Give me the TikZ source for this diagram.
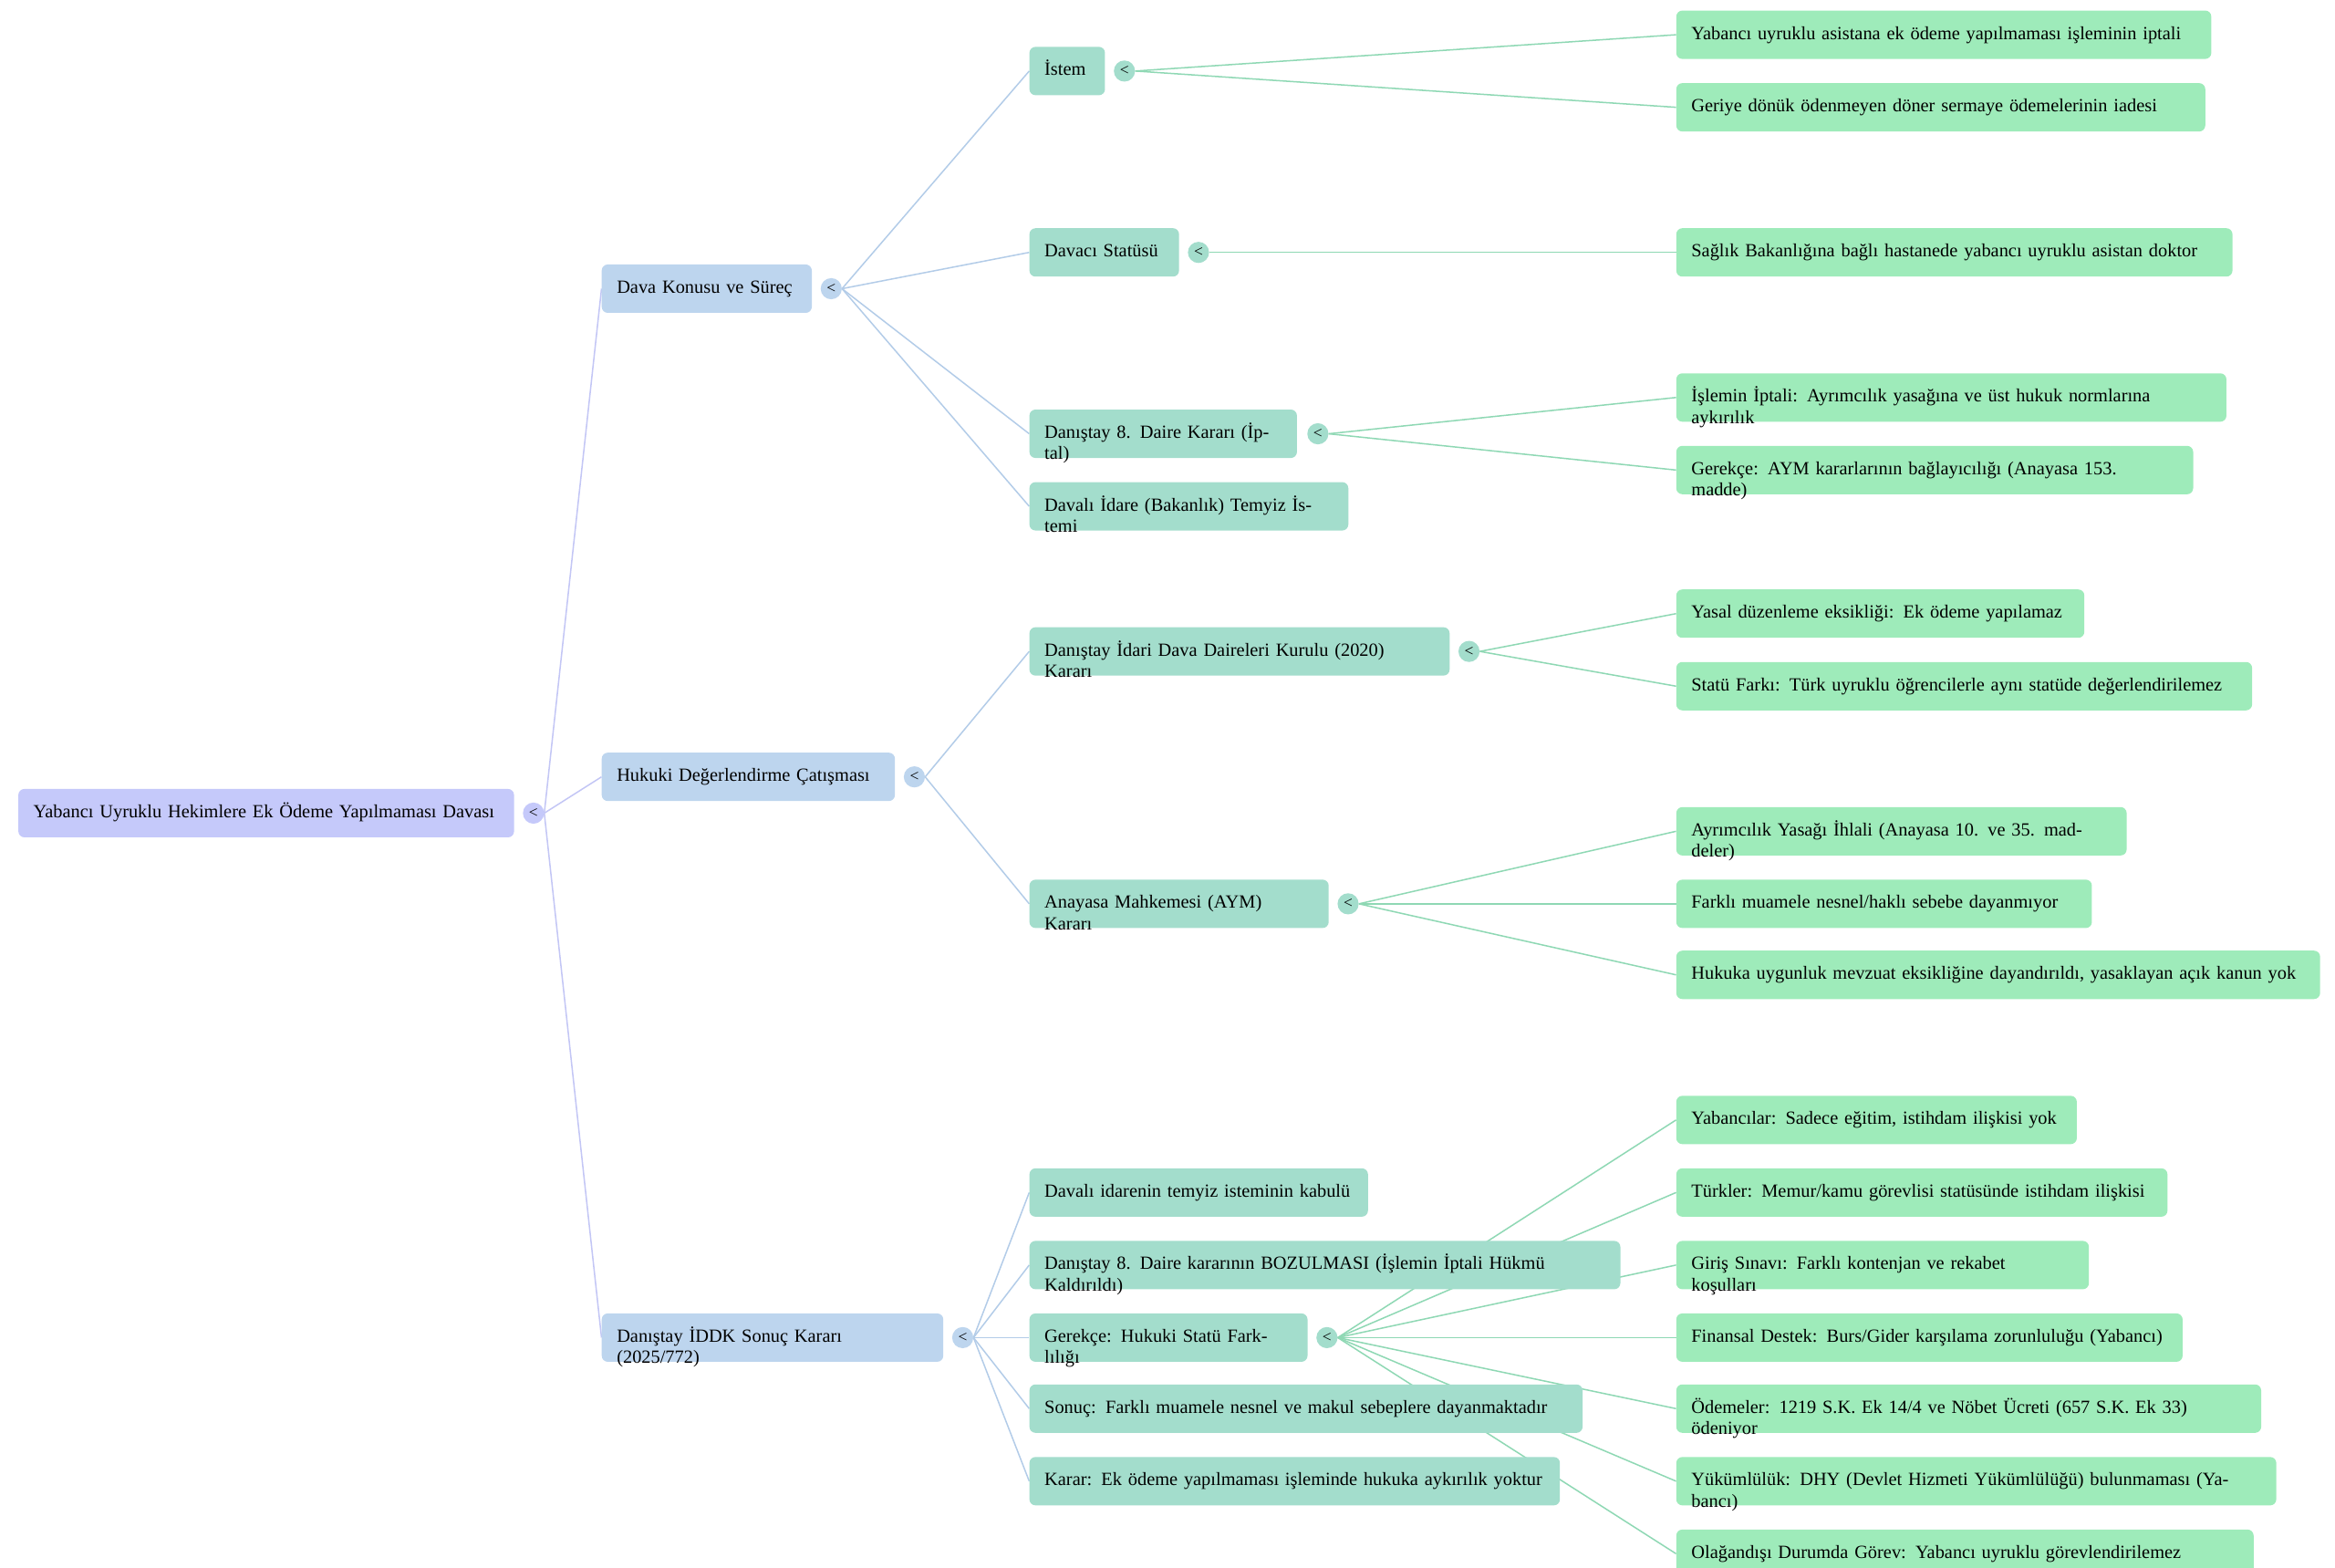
\documentclass[tikz,border=0pt]{standalone}
\usepackage{fontspec}
\setmainfont{Liberation Serif}
\usetikzlibrary{calc,backgrounds}
\begin{document}
\definecolor{c0}{HTML}{C5C9FA}
\definecolor{c1}{HTML}{BDD5EE}
\definecolor{c2}{HTML}{A3DDCC}
\definecolor{c3}{HTML}{9EEBBA}
\definecolor{e0}{HTML}{C3C6F5}
\definecolor{e1}{HTML}{B3CCE8}
\definecolor{e2}{HTML}{8FD8B4}
\begin{tikzpicture}[x=0.05cm,y=-0.05cm,
  box/.style={rounded corners=0.2cm,minimum height=1.6cm,inner xsep=0.5cm,inner ysep=0pt,anchor=west,align=left,font=\fontsize{17.5}{20}\selectfont,text height=12.5pt,text depth=4pt},
  circ/.style={circle,minimum size=0.7cm,inner sep=0pt,font=\fontsize{15}{15}\selectfont},
  lnk/.style={line width=1.3pt}]
\useasboundingbox (0,0) rectangle (1545,1037);
\newcommand{\nd}[6]{%
  \pgfmathsetlengthmacro{\mw}{(#3-#2)*0.05cm}%
  \pgfmathsetlengthmacro{\tw}{(#3-#2-20)*0.05cm}%
  \node[box,fill=#5,minimum width=\mw,text width=\tw] (#1) at (#2,#4) {#6};}
\newcommand{\cc}[4]{\node[circ,fill=#4] (#1) at (#2,#3) {<};}
\newcommand{\lk}[3]{\draw[lnk,#3] (#1.east) .. controls ($(#1.east)!0.5!(#2.west)$ |- #1.east) and ($(#1.east)!0.5!(#2.west)$ |- #2.west) .. (#2.west);}
% root
\nd{r}{12}{340}{538}{c0}{Yabancı Uyruklu Hekimlere Ek Ödeme Yapılmaması Davası}
\cc{cr}{353}{538}{c0}
% level 1
\nd{a}{398}{537}{191}{c1}{Dava Konusu ve Süreç}
\cc{ca}{550}{191}{c1}
\nd{b}{398}{592}{514}{c1}{Hukuki Değerlendirme Çatışması}
\cc{cb}{605}{514}{c1}
\nd{c}{398}{624}{885}{c1}{Danıştay İDDK Sonuç Kararı (2025/772)}
\cc{cc}{637}{885}{c1}
% level 2
\nd{a1}{681}{731}{47}{c2}{İstem}
\cc{ca1}{744}{47}{c2}
\nd{a2}{681}{780}{167}{c2}{Davacı Statüsü}
\cc{ca2}{793}{167}{c2}
\nd{a3}{681}{858}{287}{c2}{Danıştay 8. Daire Kararı (İptal)}
\cc{ca3}{872}{287}{c2}
\nd{a4}{681}{892}{335}{c2}{Davalı İdare (Bakanlık) Temyiz İstemi}
\nd{b1}{681}{959}{431}{c2}{Danıştay İdari Dava Daireleri Kurulu (2020) Kararı}
\cc{cb1}{972}{431}{c2}
\nd{b2}{681}{879}{598}{c2}{Anayasa Mahkemesi (AYM) Kararı}
\cc{cb2}{892}{598}{c2}
\nd{c1}{681}{905}{789}{c2}{Davalı idarenin temyiz isteminin kabulü}
\nd{c2}{681}{1072}{837}{c2}{Danıştay 8. Daire kararının BOZULMASI (İşlemin İptali Hükmü Kaldırıldı)}
\nd{c3}{681}{865}{885}{c2}{Gerekçe: Hukuki Statü Farklılığı}
\nd{c4}{681}{1047}{932}{c2}{Sonuç: Farklı muamele nesnel ve makul sebeplere dayanmaktadır}
\nd{c5}{681}{1032}{980}{c2}{Karar: Ek ödeme yapılmaması işleminde hukuka aykırılık yoktur}
% level 3
\nd{a11}{1109}{1463}{23}{c3}{Yabancı uyruklu asistana ek ödeme yapılmaması işleminin iptali}
\nd{a12}{1109}{1459}{71}{c3}{Geriye dönük ödenmeyen döner sermaye ödemelerinin iadesi}
\nd{a21}{1109}{1477}{167}{c3}{Sağlık Bakanlığına bağlı hastanede yabancı uyruklu asistan doktor}
\nd{a31}{1109}{1473}{263}{c3}{İşlemin İptali: Ayrımcılık yasağına ve üst hukuk normlarına aykırılık}
\nd{a32}{1109}{1451}{311}{c3}{Gerekçe: AYM kararlarının bağlayıcılığı (Anayasa 153. madde)}
\nd{b11}{1109}{1379}{406}{c3}{Yasal düzenleme eksikliği: Ek ödeme yapılamaz}
\nd{b12}{1109}{1490}{454}{c3}{Statü Farkı: Türk uyruklu öğrencilerle aynı statüde değerlendirilemez}
\nd{b21}{1109}{1407}{550}{c3}{Ayrımcılık Yasağı İhlali (Anayasa 10. ve 35. maddeler)}
\nd{b22}{1109}{1384}{598}{c3}{Farklı muamele nesnel/haklı sebebe dayanmıyor}
\nd{b23}{1109}{1535}{645}{c3}{Hukuka uygunluk mevzuat eksikliğine dayandırıldı, yasaklayan açık kanun yok}
\nd{c31}{1109}{1374}{741}{c3}{Yabancılar: Sadece eğitim, istihdam ilişkisi yok}
\nd{c32}{1109}{1434}{789}{c3}{Türkler: Memur/kamu görevlisi statüsünde istihdam ilişkisi}
\nd{c33}{1109}{1382}{837}{c3}{Giriş Sınavı: Farklı kontenjan ve rekabet koşulları}
\nd{c34}{1109}{1444}{885}{c3}{Finansal Destek: Burs/Gider karşılama zorunluluğu (Yabancı)}
\nd{c35}{1109}{1496}{932}{c3}{Ödemeler: 1219 S.K. Ek 14/4 ve Nöbet Ücreti (657 S.K. Ek 33) ödeniyor}
\nd{c36}{1109}{1506}{980}{c3}{Yükümlülük: DHY (Devlet Hizmeti Yükümlülüğü) bulunmaması (Yabancı)}
\nd{c37}{1109}{1491}{1028}{c3}{Olağandışı Durumda Görev: Yabancı uyruklu görevlendirilemez}
\cc{cc3}{878}{885}{c2}
% links
\begin{scope}[on background layer]
\foreach \t in {a,b,c}{\lk{cr}{\t}{e0}}
\foreach \t in {a1,a2,a3,a4}{\lk{ca}{\t}{e1}}
\foreach \t in {b1,b2}{\lk{cb}{\t}{e1}}
\foreach \t in {c1,c2,c3,c4,c5}{\lk{cc}{\t}{e1}}
\foreach \t in {a11,a12}{\lk{ca1}{\t}{e2}}
\lk{ca2}{a21}{e2}
\foreach \t in {a31,a32}{\lk{ca3}{\t}{e2}}
\foreach \t in {b11,b12}{\lk{cb1}{\t}{e2}}
\foreach \t in {b21,b22,b23}{\lk{cb2}{\t}{e2}}
\foreach \t in {c31,c32,c33,c34,c35,c36,c37}{\lk{cc3}{\t}{e2}}
\end{scope}
\end{tikzpicture}
\end{document}
